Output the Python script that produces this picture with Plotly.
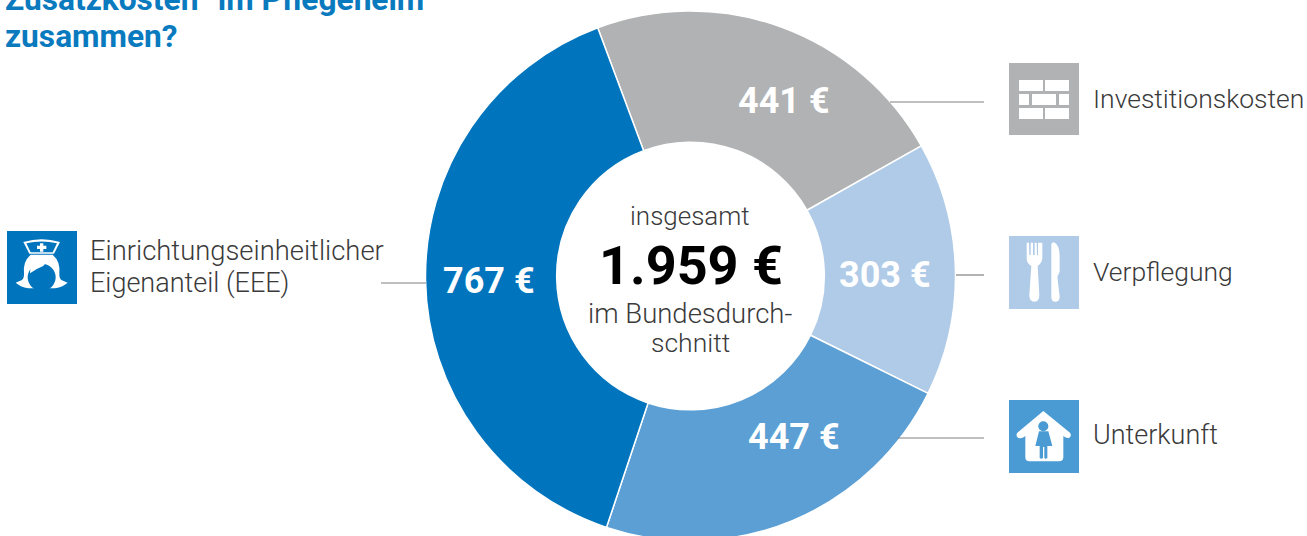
import plotly.graph_objects as go

W, H = 1307, 546  # figure runs 10 px past the 536 px window: the ring is cut at the bottom, as in the reference
categories = ["Investitionskosten", "Verpflegung", "Unterkunft", "Einrichtungseinheitlicher Eigenanteil (EEE)"]
values = [441, 303, 447, 767]
colors = ["#B1B2B3", "#AFCBE8", "#5B9FD4", "#0075BE"]
slice_labels = ["441 €", "303 €", "447 €", "767 €"]
slice_label_xy = [(784, 101), (885, 275), (794, 437), (489, 281)]
FONT = "Roboto"
BLUE = "#0075BE"
TXT = "#3a3a3a"
CX, CY, R = 690.5, 276, 265


def px(x):
    return x / W


def py(y):
    return 1 - y / H


def conv(path, ox=0, oy=0, s=1.0):
    out = []
    for t in path.split():
        if "," in t:
            a, b = t.split(",")
            out.append(f"{px(ox + float(a) / s):.5f},{py(oy + float(b) / s):.5f}")
        else:
            out.append(t)
    return " ".join(out)


shapes = []


def rect(x0, y0, x1, y1, c):
    shapes.append(dict(type="rect", xref="paper", yref="paper", x0=px(x0), x1=px(x1), y0=py(y0), y1=py(y1),
                       fillcolor=c, line_width=0, layer="above"))


def path(d, c, ox=0, oy=0, s=1.0):
    shapes.append(dict(type="path", xref="paper", yref="paper", path=conv(d, ox, oy, s), fillcolor=c,
                       line_width=0, layer="above"))


def circle(cx, cy, rx, ry, c):
    shapes.append(dict(type="circle", xref="paper", yref="paper", x0=px(cx - rx), x1=px(cx + rx), y0=py(cy + ry),
                       y1=py(cy - ry), fillcolor=c, line_width=0, layer="above"))


def line(x0, y, x1):
    shapes.append(dict(type="line", xref="paper", yref="paper", x0=px(x0), x1=px(x1), y0=py(y), y1=py(y),
                       line=dict(color="#808080", width=1.2), layer="above"))


for a, y, b in [(890, 102, 984), (956, 275, 984), (898, 438, 984), (381, 283, 426)]:
    line(a, y, b)

# Brick icon
rect(1009, 63, 1079, 135, colors[0])
for x0, x1, y0, y1 in [(1019, 1043, 80, 91), (1045, 1069, 80, 91), (1019, 1029, 94, 105), (1032, 1056, 94, 105),
                       (1059, 1069, 94, 105), (1019, 1043, 108, 119), (1045, 1069, 108, 119)]:
    rect(x0, y0, x1, y1, "white")

# Cutlery icon
rect(1009, 236, 1079, 309, colors[1])
path("M 80,38 L 87,38 L 88,75 L 92,75 L 92,38 L 99,38 L 99,75 L 104,75 L 104,38 L 110,38 L 111,75 L 114,75 L 114,38 "
     "L 127,38 L 127,85 Q 125,100 113,108 L 118,195 Q 118,215 103,215 Q 88,215 88,195 L 94,108 Q 80,100 80,85 Z",
     "white", 1000, 230, 3)
path("M 154,45 Q 154,37 162,37 Q 178,45 179,75 L 179,125 L 172,140 L 179,200 Q 179,215 166,215 Q 154,215 154,200 Z",
     "white", 1000, 230, 3)

# House icon
rect(1009, 400, 1079, 473, "#4A9AD4")
path("M 130,57 L 210,122 Q 216,132 208,137 Q 200,140 190,132 L 190,195 Q 190,208 177,208 L 88,208 Q 76,208 76,195 "
     "L 76,132 Q 64,142 54,137 Q 46,130 52,122 Z", "white", 1000, 392, 3)
circle(1043.3, 426.3, 5, 5, "#4A9AD4")
path("M 117,118 L 145,118 L 157,162 L 142,162 L 142,198 Q 137,203 133,198 L 133,165 L 129,165 L 129,198 "
     "Q 124,203 119,198 L 119,162 L 106,162 Z", "#4A9AD4", 1000, 392, 3)

# Nurse icon
rect(7, 231, 77, 304, BLUE)
path("M 70,66 Q 125,50 180,66 L 162,101 L 88,101 Z", "white", 0, 220, 3)
path("M 79,70 Q 125,59 171,70 L 158,97 L 92,97 Z", BLUE, 0, 220, 3)
path("M 120,70 L 130,70 L 130,77 L 139,77 L 139,87 L 130,87 L 130,95 L 120,95 L 120,87 L 111,87 L 111,77 L 120,77 Z",
     "white", 0, 220, 3)
path("M 92,104 L 158,104 Q 182,125 178,160 Q 177,174 184,180 L 203,188 Q 190,200 165,205 L 85,205 Q 60,200 47,188 "
     "L 66,180 Q 73,174 72,160 Q 68,125 92,104 Z", "white", 0, 220, 3)
circle(125 / 3, 220 + 172 / 3, 42 / 3, 41 / 3, BLUE)
path("M 92,128 Q 125,120 139,122 Q 137,134 125,140 Q 108,146 90,160 Z", "white", 0, 220, 3)
path("M 137,124 Q 142,130 158,140 L 160,130 L 142,120 Z", "white", 0, 220, 3)

annotations = []


def txt(x, y, s, size, color=TXT, anchor="center", bold=False, weight=300):
    annotations.append(dict(xref="paper", yref="paper", x=px(x), y=py(y), text=s,
                            showarrow=False, xanchor=anchor, yanchor="middle", align=anchor,
                            borderpad=0, borderwidth=0,
                            font=dict(family=FONT, size=size, color=color, weight=700 if bold else weight)))


for s, (x, y) in zip(slice_labels, slice_label_xy):
    txt(x, y, s, 36, "white", bold=True)

txt(690, 216, "insgesamt", 26)
txt(691, 265, "1.959 €", 54, "black", bold=True)
txt(690, 313, "im Bundesdurch-", 27.5)
txt(690, 342, "schnitt", 26.5)
txt(1093, 98, "Investitionskosten", 26.5, anchor="left")
txt(1093, 271, "Verpflegung", 26.5, anchor="left")
txt(1093, 435, "Unterkunft", 27, anchor="left")
txt(90, 251, "Einrichtungseinheitlicher", 27.4, anchor="left")
txt(90, 283, "Eigenanteil (EEE)", 27, anchor="left")
txt(5, -1, "Zusatzkosten“ im Pflegeheim", 31.7, "#0A7ABF", anchor="left", bold=True)
txt(5, 37, "zusammen?", 31.7, "#0A7ABF", anchor="left", bold=True)

fig = go.Figure(go.Pie(
    labels=categories, values=values, sort=False, direction="clockwise", rotation=339.5, hole=0.505,
    marker=dict(colors=colors, line=dict(color="white", width=1.5)), textinfo="none", hoverinfo="label+value",
    domain=dict(x=[(CX - R) / W, (CX + R) / W], y=[1 - (CY + R) / H, 1 - (CY - R) / H]), showlegend=False,
))
fig.update_layout(width=W, height=H, margin=dict(l=0, r=0, t=0, b=0), paper_bgcolor="white", plot_bgcolor="white",
                  shapes=shapes, annotations=annotations, font=dict(family=FONT))
fig.write_html("out.html", config=dict(displayModeBar=False),
               post_script="document.body.style.margin='0';document.body.style.overflow='hidden';"
                           "document.documentElement.style.overflow='hidden';")
